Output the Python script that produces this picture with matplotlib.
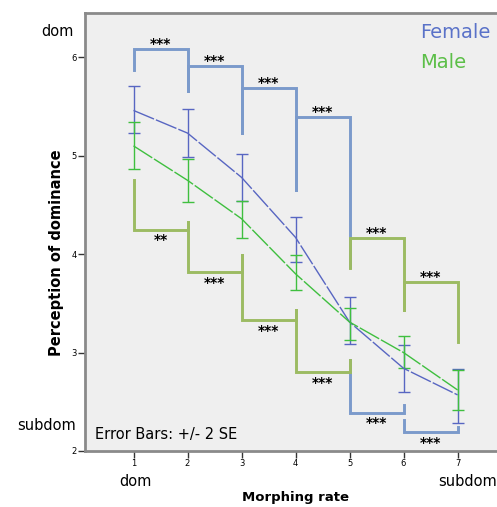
import matplotlib
matplotlib.use("Agg")
import matplotlib.pyplot as plt

plt.rcParams['font.family'] = ['DejaVu Sans']

# ---- data ----
morph = [1, 2, 3, 4, 5, 6, 7]
xtick_labels = ['1', '2', '3', '4', '5', '6', '7']
ytick_vals = [2, 3, 4, 5, 6]

female_mean = [5.46, 5.23, 4.78, 4.17, 3.31, 2.84, 2.57]
female_hi = [5.71, 5.47, 5.02, 4.38, 3.56, 3.08, 2.83]
female_lo = [5.23, 4.99, 4.54, 3.92, 3.09, 2.60, 2.28]

male_mean = [5.10, 4.75, 4.36, 3.80, 3.31, 3.00, 2.62]
male_hi = [5.34, 4.97, 4.54, 3.99, 3.45, 3.17, 2.82]
male_lo = [4.87, 4.53, 4.16, 3.64, 3.13, 2.84, 2.42]

# significance brackets: (x_start, x_end, bar level, left leg end, right leg end, label)
female_brackets = [
    (1, 2, 6.08, 5.87, 5.66, '***'),
    (2, 3, 5.91, 5.66, 5.23, '***'),
    (3, 4, 5.69, 5.23, 4.65, '***'),
    (4, 5, 5.39, 4.65, 3.87, '***'),
    (5, 6, 2.39, 2.92, 2.47, '***'),
    (6, 7, 2.19, 2.31, 2.24, '***'),
]
male_brackets = [
    (1, 2, 4.25, 4.75, 4.33, '**'),
    (2, 3, 3.82, 4.33, 3.99, '***'),
    (3, 4, 3.33, 3.99, 3.43, '***'),
    (4, 5, 2.80, 3.43, 2.92, '***'),
    (5, 6, 4.16, 3.86, 3.43, '***'),
    (6, 7, 3.72, 3.43, 3.11, '***'),
]

# ---- figure ----
fig = plt.figure(figsize=(4.97, 5.07), dpi=100)
ax = fig.add_axes([85/497, 1-451/507, 1-85/497, (451-13)/507])
ax.set_facecolor('#efefef')
ax.set_xlim(0.102, 7.73)
ax.set_ylim(2.0, 6.45)

blue_line = '#5866c2'
green_line = '#3fbf3f'
blue_br = '#7b9acb'
green_br = '#9cbb63'

def draw_brackets(specs, color):
    for x0, x1, lev, l_end, r_end, lab in specs:
        ax.plot([x0, x0, x1, x1], [l_end, lev, lev, r_end], color=color,
                lw=2.1, solid_joinstyle='miter', zorder=2)
        above = lev > max(l_end, r_end)
        ty = lev + 0.01 if above else lev - 0.15
        ax.text((x0+x1)/2, ty, lab, ha='center', va='baseline',
                fontsize=10, fontweight='bold', color='black')

draw_brackets(female_brackets, blue_br)
draw_brackets(male_brackets, green_br)

def series(mean, hi, lo, color):
    yerr = [[m - l for m, l in zip(mean, lo)], [h - m for m, h in zip(mean, hi)]]
    ax.errorbar(morph, mean, yerr=yerr, fmt='none', ecolor=color, elinewidth=1.0,
                capsize=4.5, capthick=1.0, zorder=3)
    ax.plot(morph, mean, color=color, lw=1.0, dashes=(16, 1.5), zorder=4)

series(female_mean, female_hi, female_lo, blue_line)
series(male_mean, male_hi, male_lo, green_line)

# axes styling
for side in ['left', 'bottom', 'top']:
    ax.spines[side].set_color('#8a8a8a')
    ax.spines[side].set_linewidth(2.0)
ax.spines['right'].set_visible(False)
ax.set_xticks(morph)
ax.set_xticklabels(xtick_labels, fontsize=6)
ax.set_yticks(ytick_vals)
ax.set_yticklabels([str(v) for v in ytick_vals], fontsize=6)
ax.tick_params(axis='both', length=5, width=1, color='#333333', pad=1)

# legend text
fig.text(420/497, 1-33/507, 'Female', color='#5a72c8', fontsize=14, va='center', ha='left')
fig.text(420/497, 1-63/507, 'Male', color='#5cbf48', fontsize=14, va='center', ha='left')

fig.text(95/497, 1-434/507, 'Error Bars: +/- 2 SE', fontsize=10.5, va='center', ha='left')

# axis annotations
fig.text(57/497, 1-32/507, 'dom', fontsize=10.5, ha='center', va='center')
fig.text(76/497, 1-425/507, 'subdom', fontsize=10.5, ha='right', va='center')
fig.text(135/497, 1-482/507, 'dom', fontsize=10.5, ha='center', va='center')
fig.text(497/497, 1-482/507, 'subdom', fontsize=10.5, ha='right', va='center')

fig.text(296/497, 1-497/507, 'Morphing rate', fontsize=9.5, fontweight='bold',
         ha='center', va='center')
fig.text(57/497, 1-253/507, 'Perception of dominance', fontsize=10.5, fontweight='bold',
         ha='center', va='center', rotation=90)

fig.savefig('out.png', dpi=100)
